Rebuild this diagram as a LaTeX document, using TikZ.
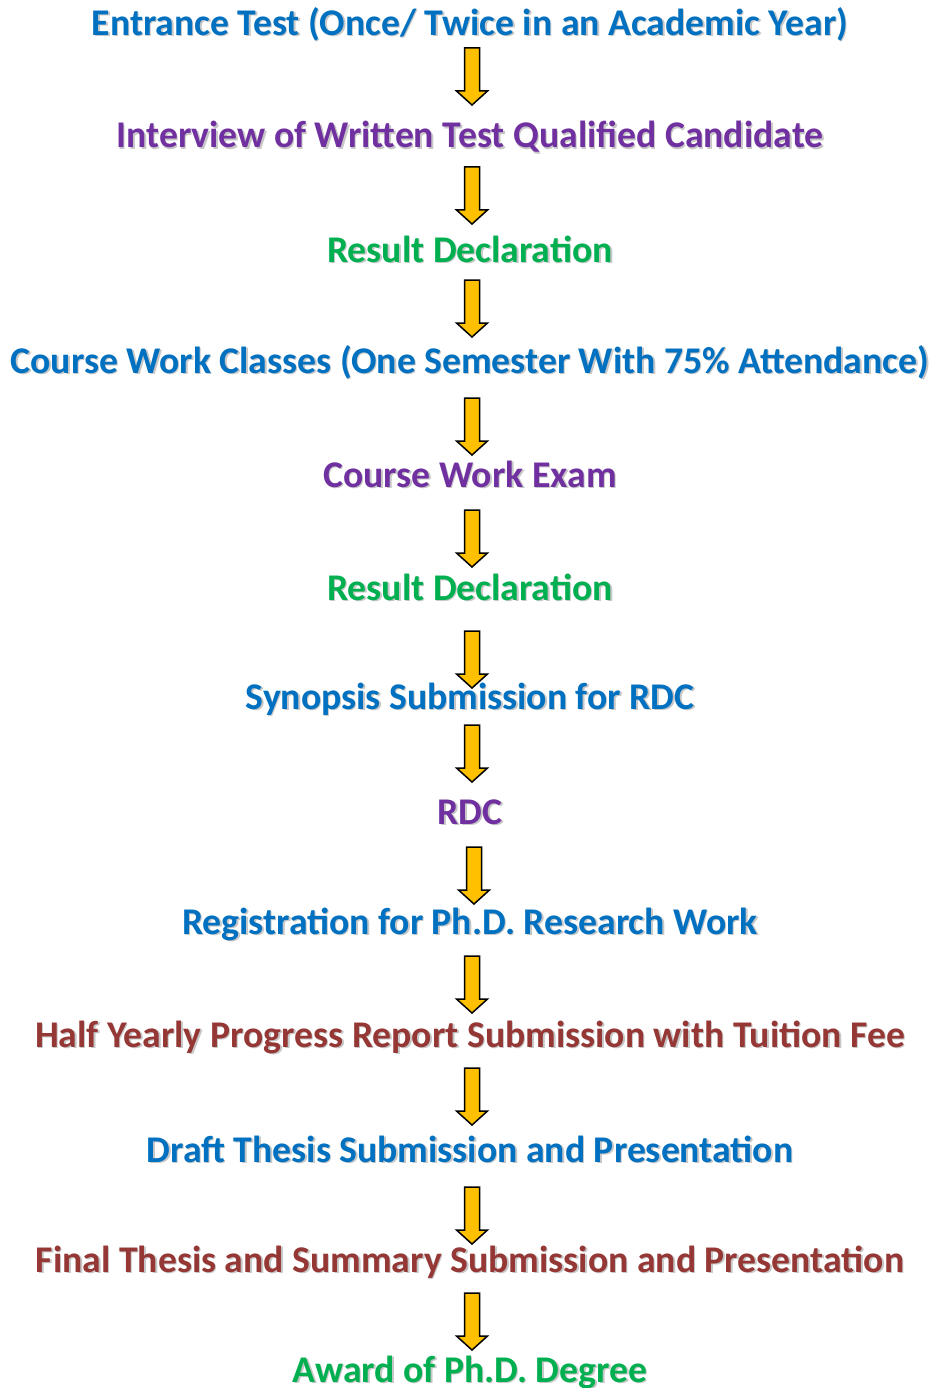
\documentclass[tikz,border=0pt]{standalone}
\usepackage{fontspec}
\setmainfont{Carlito}
\definecolor{cblue}{HTML}{0070C0}
\definecolor{cpurple}{HTML}{7030A0}
\definecolor{cgreen}{HTML}{00B050}
\definecolor{cred}{HTML}{953735}
\definecolor{cyel}{HTML}{FFC000}
\tikzset{
  lbl/.style={inner sep=0pt, anchor=center, font=\fontsize{37.7}{40}\selectfont\bfseries},
  shd/.style={lbl, text=black!22},
  pics/darr/.style={code={
    \fill[cyel, draw=black, line width=1.5pt, line join=miter]
      (-7.5,0) -- (7.5,0) -- (7.5,43) -- (15.5,43) -- (0,57) -- (-15.5,43) -- (-7.5,43) -- cycle;
  }}
}
\newcommand{\stepline}[4]{%
  \node[shd] at (471.5,#2+1.5) {#4};
  \node[lbl, text=#3] (#1) at (470,#2) {#4};
}
\begin{document}
\begin{tikzpicture}[x=1pt,y=-1pt]
\useasboundingbox (0,0) rectangle (932,1388);
\stepline{s1}{24}{cblue}{Entrance Test (Once/ Twice in an Academic Year)}
\stepline{s2}{137}{cpurple}{Interview of Written Test Qualified Candidate}
\stepline{s3}{249}{cgreen}{Result Declaration}
\stepline{s4}{362}{cblue}{Course Work Classes (One Semester With 75\% Attendance)}
\stepline{s5}{474}{cpurple}{Course Work Exam}
\stepline{s6}{587}{cgreen}{Result Declaration}
\stepline{s7}{699}{cblue}{Synopsis Submission for RDC}
\stepline{s8}{812}{cpurple}{RDC}
\stepline{s9}{924}{cblue}{Registration for Ph.D. Research Work}
\stepline{s10}{1037}{cred}{Half Yearly Progress Report Submission with Tuition Fee}
\stepline{s11}{1149}{cblue}{Draft Thesis Submission and Presentation}
\stepline{s12}{1262}{cred}{Final Thesis and Summary Submission and Presentation}
\stepline{s13}{1372}{cgreen}{Award of Ph.D. Degree}
\pic (a1) at (472,48) {darr};
\pic (a2) at (472,167) {darr};
\pic (a3) at (472,280) {darr};
\pic (a4) at (472,398) {darr};
\pic (a5) at (472,510) {darr};
\pic (a6) at (472,631) {darr};
\pic (a7) at (472,725) {darr};
\pic (a8) at (474,847) {darr};
\pic (a9) at (472,956) {darr};
\pic (a10) at (472,1068) {darr};
\pic (a11) at (472,1187) {darr};
\pic (a12) at (472,1293) {darr};
\end{tikzpicture}
\end{document}
